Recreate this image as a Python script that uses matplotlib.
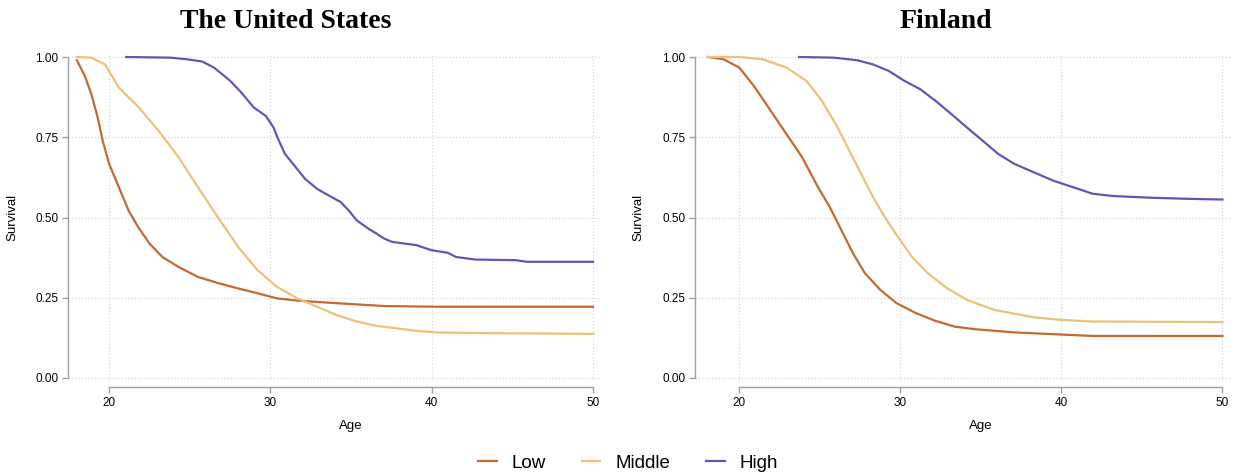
import matplotlib
matplotlib.use('Agg')
import matplotlib.pyplot as plt

plt.rcParams['font.family'] = ['Liberation Sans', 'DejaVu Sans']

# survival curves (age, survival)
us_low_age = [18.0, 18.5, 18.9, 19.3, 19.6, 20.0, 20.6, 21.2, 21.8, 22.5, 23.3, 24.3, 25.5, 26.8, 28.0, 29.2, 30.4, 31.7, 34.1, 37.1, 40.3, 50.0]
us_low_surv = [0.99, 0.94, 0.884, 0.81, 0.739, 0.667, 0.595, 0.522, 0.47, 0.419, 0.377, 0.346, 0.315, 0.295, 0.279, 0.264, 0.248, 0.241, 0.233, 0.224, 0.222, 0.222]

us_mid_age = [18.0, 18.9, 19.75, 20.6, 21.84, 23.07, 24.3, 25.5, 26.75, 28.0, 29.2, 30.4, 31.66, 32.9, 34.1, 35.35, 36.6, 37.8, 39.0, 40.25, 42.7, 50.0]
us_mid_surv = [1.0, 0.998, 0.977, 0.905, 0.843, 0.77, 0.688, 0.595, 0.50, 0.408, 0.336, 0.284, 0.248, 0.222, 0.196, 0.176, 0.162, 0.155, 0.147, 0.142, 0.14, 0.1375]

us_high_age = [21.06, 23.8, 24.8, 25.77, 26.5, 27.5, 28.2, 28.96, 29.7, 30.2, 30.43, 30.9, 31.4, 32.15, 32.9, 33.6, 34.36, 34.85, 35.35, 36.08, 36.57, 37.06, 37.55, 39.03, 40.0, 41.0, 41.5, 42.7, 45.2, 45.9, 50.0]
us_high_surv = [1.0, 0.998, 0.993, 0.986, 0.967, 0.926, 0.889, 0.843, 0.817, 0.78, 0.75, 0.698, 0.667, 0.62, 0.589, 0.569, 0.548, 0.522, 0.491, 0.465, 0.45, 0.434, 0.424, 0.414, 0.398, 0.39, 0.377, 0.369, 0.367, 0.362, 0.362]

fi_low_age = [18.1, 19.07, 20.05, 21.02, 22.0, 22.97, 23.94, 24.92, 25.65, 26.38, 27.1, 27.84, 28.8, 29.8, 31.0, 32.2, 33.4, 34.66, 37.1, 39.5, 41.96, 50.0]
fi_low_surv = [1.0, 0.993, 0.967, 0.905, 0.832, 0.76, 0.688, 0.595, 0.533, 0.46, 0.388, 0.326, 0.274, 0.233, 0.202, 0.178, 0.16, 0.152, 0.142, 0.1365, 0.131, 0.131]

fi_mid_age = [18.1, 20.05, 21.5, 22.97, 24.2, 25.16, 26.14, 26.87, 27.6, 28.33, 29.06, 29.8, 30.76, 31.74, 32.95, 34.17, 35.87, 38.3, 40.0, 41.96, 50.0]
fi_mid_surv = [1.0, 1.0, 0.993, 0.967, 0.926, 0.864, 0.781, 0.708, 0.636, 0.564, 0.502, 0.445, 0.377, 0.326, 0.279, 0.243, 0.212, 0.189, 0.181, 0.176, 0.174]

fi_high_age = [23.75, 25.9, 27.35, 28.33, 29.3, 30.27, 31.25, 32.2, 33.2, 34.17, 35.14, 36.1, 37.1, 38.3, 39.5, 40.7, 41.96, 43.2, 45.6, 48.05, 50.0]
fi_high_surv = [1.0, 0.998, 0.99, 0.977, 0.957, 0.926, 0.9, 0.864, 0.822, 0.78, 0.739, 0.698, 0.667, 0.641, 0.615, 0.595, 0.574, 0.567, 0.5615, 0.558, 0.556]

GROUPS = ['Low', 'Middle', 'High']
COLORS = ['#c46a2e', '#edc278', '#6a52b4']
X_TICKS = [20, 30, 40, 50]
Y_TICKS = [0.0, 0.25, 0.5, 0.75, 1.0]

W, H = 1237, 476
fig = plt.figure(figsize=(W / 100, H / 100), dpi=100)


def make_axes(left_px, right_px, xlim):
  bottom = (H - 381.2) / H
  top = (H - 53.8) / H
  ax = fig.add_axes([left_px / W, bottom, (right_px - left_px) / W, top - bottom])
  ax.set_xlim(*xlim)
  ax.set_ylim(-0.01, 1.01)
  for s in ['top', 'right']:
    ax.spines[s].set_visible(False)
  for s in ['left', 'bottom']:
    ax.spines[s].set_color('#a0a0a0')
    ax.spines[s].set_linewidth(1.0)
  ax.spines['left'].set_bounds(0, 1)
  ax.spines['bottom'].set_bounds(20, 50)
  ax.spines['bottom'].set_position(('outward', 4.3))
  ax.set_xticks(X_TICKS)
  ax.set_yticks(Y_TICKS)
  ax.set_yticklabels(['%.2f' % v for v in Y_TICKS])
  ax.tick_params(axis='both', colors='#a0a0a0', labelcolor='black', length=4, width=1.0,
                 labelsize=8.5, pad=3)
  ax.grid(True, linestyle=':', color='#d8d8d8', linewidth=0.9)
  ax.set_axisbelow(True)
  ax.set_ylabel('Survival', fontsize=9.5)
  ax.set_xlabel('Age', fontsize=9.5)
  ax.yaxis.set_label_coords(-0.094, 0.5)
  ax.xaxis.set_label_coords((35 - xlim[0]) / (xlim[1] - xlim[0]), -0.118)
  return ax


ax1 = make_axes(68, 600, (17.45, 50.43))
ax2 = make_axes(695, 1230, (17.3, 50.47))

lines = []
for ax, curves in [(ax1, [(us_low_age, us_low_surv), (us_mid_age, us_mid_surv), (us_high_age, us_high_surv)]),
                   (ax2, [(fi_low_age, fi_low_surv), (fi_mid_age, fi_mid_surv), (fi_high_age, fi_high_surv)])]:
  lines = []
  for (a, s), c, g in zip(curves, COLORS, GROUPS):
    l, = ax.plot(a, s, color=c, linewidth=1.6, label=g, clip_on=False)
    lines.append(l)

fig.text(286 / W, 1 - 21 / H, 'The United States', ha='center', va='center',
         fontsize=20, fontweight='bold', family='Liberation Serif')
fig.text(946 / W, 1 - 21 / H, 'Finland', ha='center', va='center',
         fontsize=20, fontweight='bold', family='Liberation Serif')

fig.legend(handles=lines, labels=GROUPS, loc='center', bbox_to_anchor=(628 / W, 1 - 463 / H),
           ncol=3, frameon=False, fontsize=13.5, handlelength=1.0, columnspacing=1.9, handletextpad=0.8)

fig.savefig('out.png', dpi=100)
